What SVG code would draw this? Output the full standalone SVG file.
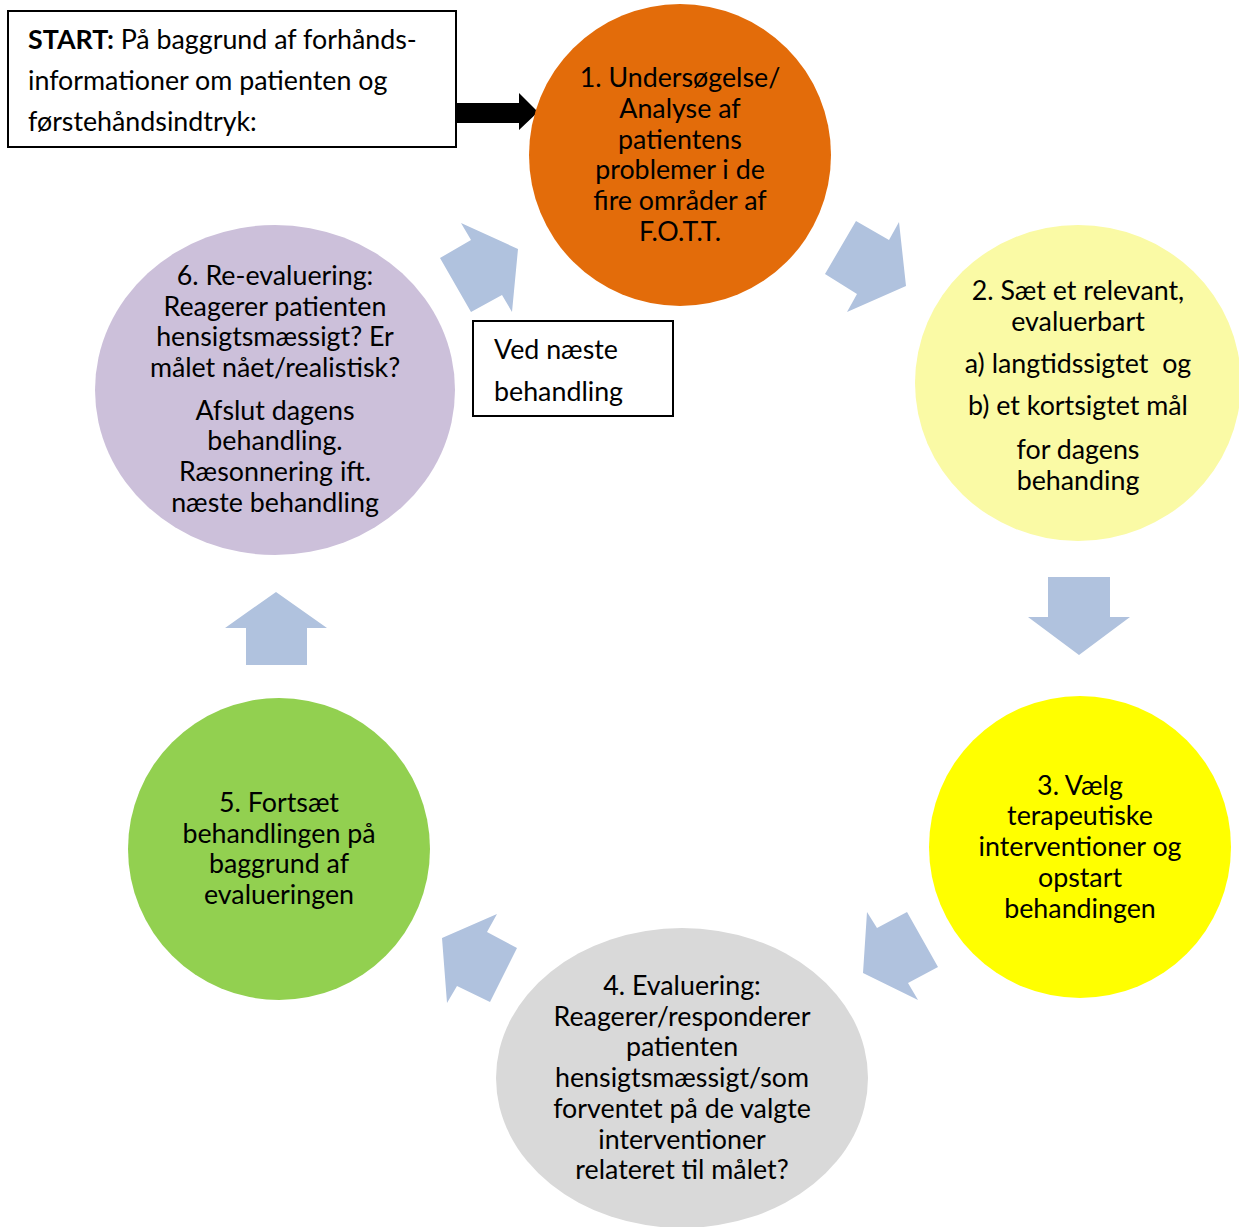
<svg xmlns="http://www.w3.org/2000/svg" width="1239" height="1227" viewBox="0 0 1239 1227">
<style>
text{font-family:Lato,"Liberation Sans",sans-serif;font-size:26.8px;fill:#000}
.c{text-anchor:middle}
.blk{fill:#B0C2DE}
.box{fill:#fff;stroke:#000;stroke-width:2}
</style>
<rect width="1239" height="1227" fill="#fff"/>
<g id="connectors">
<polygon class="blk" points="461,223 518,249 512,312 502,295 471,312 440,258 471,240"/>
<polygon class="blk" points="856,221 889,240 899,222 906,286 847,312 857,294 825,274"/>
<polygon class="blk" points="1048,577 1110,577 1110,617 1130,617 1079,655 1028,617 1048,617"/>
<polygon class="blk" points="867,912 877,928 907,912 938,967 908,983 918,1000 863,973"/>
<polygon class="blk" points="497,914 487,932 517,948 490,1002 457,986 447,1003 442,938"/>
<polygon class="blk" points="276,592 327,628 307,628 307,665 246,665 246,628 225,628"/>
<polygon fill="#000" points="456,103 519,103 519,93 538,112 519,130 519,123 456,123"/>
</g>
<g id="start">
<rect class="box" x="8" y="11" width="448" height="136"/>
<text x="28" y="49"><tspan font-weight="bold">START:</tspan> På baggrund af forhånds-</text>
<text x="28" y="90">informationer om patienten og</text>
<text x="28" y="131">førstehåndsindtryk:</text>
</g>
<g id="node1">
<circle cx="680" cy="155" r="151" fill="#E36C0A"/>
<text class="c" x="680" y="87">1. Undersøgelse/</text>
<text class="c" x="680" y="118">Analyse af</text>
<text class="c" x="680" y="149">patientens</text>
<text class="c" x="680" y="179">problemer i de</text>
<text class="c" x="680" y="210">fire områder af</text>
<text class="c" x="680" y="241">F.O.T.T.</text>
</g>
<g id="node2">
<ellipse cx="1078" cy="383" rx="163" ry="158" fill="#FAFAA5"/>
<text class="c" x="1078" y="300">2. Sæt et relevant,</text>
<text class="c" x="1078" y="331">evaluerbart</text>
<text class="c" x="1078" y="373" xml:space="preserve" style="white-space:pre">a) langtidssigtet  og</text>
<text class="c" x="1078" y="415">b) et kortsigtet mål</text>
<text class="c" x="1078" y="459">for dagens</text>
<text class="c" x="1078" y="490">behanding</text>
</g>
<g id="node3">
<circle cx="1080" cy="847" r="151" fill="#FFFF00"/>
<text class="c" x="1080" y="795">3. Vælg</text>
<text class="c" x="1080" y="825">terapeutiske</text>
<text class="c" x="1080" y="856">interventioner og</text>
<text class="c" x="1080" y="887">opstart</text>
<text class="c" x="1080" y="918">behandingen</text>
</g>
<g id="node4">
<ellipse cx="682" cy="1078" rx="186" ry="150" fill="#D9D9D9"/>
<text class="c" x="682" y="995">4. Evaluering:</text>
<text class="c" x="682" y="1026">Reagerer/responderer</text>
<text class="c" x="682" y="1056">patienten</text>
<text class="c" x="682" y="1087">hensigtsmæssigt/som</text>
<text class="c" x="682" y="1118">forventet på de valgte</text>
<text class="c" x="682" y="1149">interventioner</text>
<text class="c" x="682" y="1179">relateret til målet?</text>
</g>
<g id="node5">
<circle cx="279" cy="849" r="151" fill="#92D050"/>
<text class="c" x="279" y="812">5. Fortsæt</text>
<text class="c" x="279" y="843">behandlingen på</text>
<text class="c" x="279" y="873">baggrund af</text>
<text class="c" x="279" y="904">evalueringen</text>
</g>
<g id="node6">
<ellipse cx="275" cy="390" rx="180" ry="165" fill="#CCC0DA"/>
<text class="c" x="275" y="285">6. Re-evaluering:</text>
<text class="c" x="275" y="316">Reagerer patienten</text>
<text class="c" x="275" y="346">hensigtsmæssigt? Er</text>
<text class="c" x="275" y="377">målet nået/realistisk?</text>
<text class="c" x="275" y="420">Afslut dagens</text>
<text class="c" x="275" y="450">behandling.</text>
<text class="c" x="275" y="481">Ræsonnering ift.</text>
<text class="c" x="275" y="512">næste behandling</text>
</g>
<g id="next">
<rect class="box" x="473" y="321" width="200" height="95"/>
<text x="494" y="359">Ved næste</text>
<text x="494" y="401">behandling</text>
</g>
</svg>
